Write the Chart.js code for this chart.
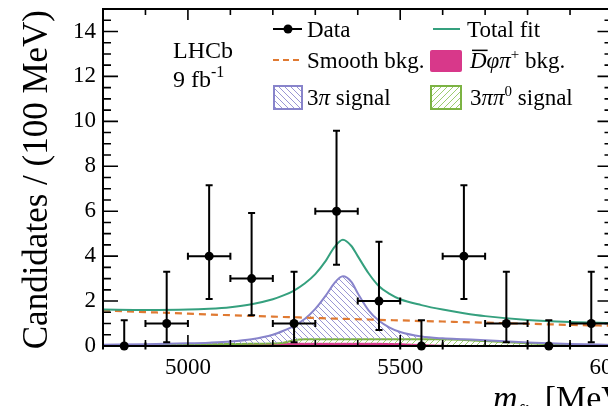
<!DOCTYPE html>
<html>
<head>
<meta charset="utf-8">
<script src="https://cdn.jsdelivr.net/npm/chart.js@4.4.0/dist/chart.umd.min.js"></script>
<style>
  html, body { margin: 0; padding: 0; background: #fff; overflow: hidden; }
  #wrap { width: 608px; height: 406px; overflow: hidden; }
  canvas { display: block; }
</style>
</head>
<body>
<div id="wrap"><canvas id="fitChart" width="640" height="406"></canvas></div>
<script>
// binned data, 100 MeV bins
const binCenters = [4850, 4950, 5050, 5150, 5250, 5350, 5450, 5550, 5650, 5750, 5850, 5950];
const counts     = [0, 1, 4, 3, 1, 6, 2, 0, 4, 1, 0, 1];
const errLow     = [0, 0.17, 2.09, 1.37, 0.17, 3.62, 0.71, 0, 2.09, 0.17, 0, 0.17];
const errHigh    = [1.15, 3.30, 7.16, 5.92, 3.30, 9.58, 4.64, 1.15, 7.16, 3.30, 1.15, 3.30];
const binHalfWidth = 50;

// fit components, sampled along the mass axis
const curveMass = [4800, 4900, 5000, 5050, 5100, 5150, 5200, 5225, 5250, 5275, 5300, 5325, 5345, 5365,
                   5385, 5400, 5425, 5450, 5475, 5500, 5550, 5600, 5650, 5700, 5800, 5900, 6000];
const totalFit  = [1.62, 1.60, 1.62, 1.66, 1.73, 1.86, 2.08, 2.25, 2.47, 2.78, 3.20, 3.80, 4.40, 4.73,
                   4.45, 4.00, 3.25, 2.66, 2.32, 2.08, 1.82, 1.62, 1.46, 1.33, 1.16, 1.07, 1.02];
const smoothBkg = [1.58, 1.51, 1.44, 1.40, 1.37, 1.34, 1.31, 1.29, 1.28, 1.26, 1.25, 1.23, 1.22, 1.21,
                   1.20, 1.19, 1.18, 1.16, 1.15, 1.14, 1.11, 1.09, 1.06, 1.04, 0.99, 0.94, 0.90];
// stacked tops: D phi pi bkg, + 3pi pi0 signal, + 3pi signal
const dphipiTop = [0.02, 0.04, 0.07, 0.08, 0.09, 0.10, 0.11, 0.11, 0.12, 0.12, 0.12, 0.12, 0.12, 0.12,
                   0.12, 0.12, 0.12, 0.12, 0.11, 0.10, 0.06, 0.03, 0.01, 0, 0, 0, 0];
const pi3pi0Top = [0.02, 0.04, 0.07, 0.08, 0.09, 0.10, 0.11, 0.14, 0.26, 0.30, 0.30, 0.30, 0.30, 0.30,
                   0.30, 0.30, 0.30, 0.30, 0.30, 0.30, 0.30, 0.30, 0.27, 0.22, 0.12, 0.05, 0.02];
const pi3Top    = [0.06, 0.08, 0.12, 0.15, 0.20, 0.30, 0.50, 0.68, 0.90, 1.20, 1.65, 2.25, 2.80, 3.10,
                   2.85, 2.35, 1.60, 1.12, 0.82, 0.62, 0.42, 0.34, 0.30, 0.26, 0.16, 0.09, 0.05];

const xTickValues = [5000, 5500, 6000];
const yTickValues = [0, 2, 4, 6, 8, 10, 12, 14];

const SERIF = "'Liberation Serif', 'Times New Roman', serif";
const GREEN = '#35a07e', ORANGE = '#e07a32', PINK = '#d8388a', PURPLE = '#8884cb', LIME = '#7cb343';

const canvas = document.getElementById('fitChart');
const ctx = canvas.getContext('2d');

function hatch(color, forward) {
  const s = 6;
  const c = document.createElement('canvas');
  c.width = s; c.height = s;
  const g = c.getContext('2d');
  g.strokeStyle = color;
  g.lineWidth = 1;
  g.beginPath();
  if (forward) {
    g.moveTo(0, s); g.lineTo(s, 0);
    g.moveTo(-1, 1); g.lineTo(1, -1);
    g.moveTo(s - 1, s + 1); g.lineTo(s + 1, s - 1);
  } else {
    g.moveTo(0, 0); g.lineTo(s, s);
    g.moveTo(-1, s - 1); g.lineTo(1, s + 1);
    g.moveTo(s - 1, -1); g.lineTo(s + 1, 1);
  }
  g.stroke();
  return ctx.createPattern(c, 'repeat');
}

const purpleHatch = hatch('#9a96d4', false);
const limeHatch = hatch('#9ccc70', true);

const pts = ys => curveMass.map((x, i) => ({ x: x, y: ys[i] }));

// draw text pieces one after another: [text, style] with style n / i / sup / sub
function rich(c, x, y, parts, size) {
  parts.forEach(p => {
    let font = size + 'px ' + SERIF, dy = 0;
    if (p[1] === 'i') font = 'italic ' + font;
    if (p[1] === 'sup') { font = Math.round(size * 0.65) + 'px ' + SERIF; dy = -size * 0.4; }
    if (p[1] === 'sub') { font = Math.round(size * 0.62) + 'px ' + SERIF; dy = size * 0.3; }
    c.font = font;
    c.fillText(p[0], x, y + dy);
    const w = c.measureText(p[0]).width;
    if (p[2] === 'bar') {
      c.fillRect(x + 2, y - size * 0.8, w - 1, 1.5);
    }
    x += w;
  });
  return x;
}

const decorations = {
  id: 'decorations',
  afterDatasetsDraw(chart) {
    const c = chart.ctx, xs = chart.scales.x, ys = chart.scales.y;
    c.save();
    c.strokeStyle = '#000';
    c.lineWidth = 2;
    binCenters.forEach((m, i) => {
      const px = xs.getPixelForValue(m), py = ys.getPixelForValue(counts[i]);
      const lo = ys.getPixelForValue(errLow[i]), hi = ys.getPixelForValue(errHigh[i]);
      const l = xs.getPixelForValue(m - binHalfWidth), r = xs.getPixelForValue(m + binHalfWidth);
      c.beginPath();
      c.moveTo(px, lo); c.lineTo(px, hi);
      c.moveTo(px - 3.5, hi); c.lineTo(px + 3.5, hi);
      if (errLow[i] > 0) { c.moveTo(px - 3.5, lo); c.lineTo(px + 3.5, lo); }
      c.moveTo(l, py); c.lineTo(r, py);
      c.moveTo(l, py - 3.5); c.lineTo(l, py + 3.5);
      c.moveTo(r, py - 3.5); c.lineTo(r, py + 3.5);
      c.stroke();
    });
    c.restore();
  },
  afterDraw(chart) {
    const c = chart.ctx, xs = chart.scales.x, ys = chart.scales.y, a = chart.chartArea;
    c.save();
    c.strokeStyle = '#000';
    c.fillStyle = '#000';
    c.lineWidth = 2;
    c.strokeRect(a.left, a.top, a.right - a.left, a.bottom - a.top);

    // inward ticks
    c.lineWidth = 1.6;
    c.beginPath();
    for (let m = 4800; m <= 6000; m += 100) {
      const px = xs.getPixelForValue(m);
      const len = m % 500 === 0 ? 11 : 6;
      c.moveTo(px, a.bottom); c.lineTo(px, a.bottom - len);
      c.moveTo(px, a.top); c.lineTo(px, a.top + len);
    }
    for (let v = 0; v <= 15; v += 0.5) {
      const py = ys.getPixelForValue(v);
      const len = v % 2 === 0 ? 15 : 8;
      c.moveTo(a.left, py); c.lineTo(a.left + len, py);
      c.moveTo(a.right, py); c.lineTo(a.right - len, py);
    }
    c.stroke();

    // axis titles
    c.textBaseline = 'alphabetic';
    c.save();
    c.translate(47, 10);
    c.rotate(-Math.PI / 2);
    c.textAlign = 'right';
    c.font = '35px ' + SERIF;
    c.fillText('Candidates / (100 MeV)', 0, 0);
    c.restore();
    c.textAlign = 'left';
    rich(c, 493, 409, [['m', 'i'], ['fit', 'sub'], [' [MeV]', 'n']], 34);

    // experiment label
    c.font = '24px ' + SERIF;
    c.fillText('LHCb', 173, 58);
    rich(c, 173, 87, [['9 fb', 'n'], ['-1', 'sup']], 24);

    // legend
    const fs = 23;
    c.lineWidth = 2;
    c.beginPath(); c.moveTo(273, 29); c.lineTo(302, 29); c.stroke();
    c.beginPath(); c.arc(288, 29, 4.5, 0, Math.PI * 2); c.fill();
    rich(c, 307, 37, [['Data', 'n']], fs);

    c.strokeStyle = GREEN;
    c.beginPath(); c.moveTo(433, 29); c.lineTo(460, 29); c.stroke();
    rich(c, 467, 37, [['Total fit', 'n']], fs);

    c.strokeStyle = ORANGE;
    c.setLineDash([6, 4]);
    c.lineWidth = 2.2;
    c.beginPath(); c.moveTo(273, 60); c.lineTo(302, 60); c.stroke();
    c.setLineDash([]);
    rich(c, 307, 68, [['Smooth bkg.', 'n']], fs);

    c.fillStyle = PINK;
    c.beginPath(); c.roundRect(430, 50, 32, 22, 2); c.fill();
    c.fillStyle = '#000';
    rich(c, 470, 68, [['D', 'i', 'bar'], ['φπ', 'i'], ['+', 'sup'], [' bkg.', 'n']], fs);

    c.lineWidth = 2;
    c.fillStyle = purpleHatch;
    c.fillRect(274, 86, 28, 23);
    c.strokeStyle = PURPLE;
    c.strokeRect(274, 86, 28, 23);
    c.fillStyle = limeHatch;
    c.fillRect(431, 86, 30, 23);
    c.strokeStyle = LIME;
    c.strokeRect(431, 86, 30, 23);
    c.fillStyle = '#000';
    rich(c, 307, 105, [['3', 'n'], ['π', 'i'], [' signal', 'n']], fs);
    rich(c, 470, 105, [['3', 'n'], ['ππ', 'i'], ['0', 'sup'], [' signal', 'n']], fs);
    c.restore();
  }
};

new Chart(ctx, {
  type: 'line',
  data: {
    datasets: [
      { data: pts(dphipiTop), borderColor: PINK, borderWidth: 1, backgroundColor: PINK,
        fill: 'origin', cubicInterpolationMode: 'monotone', order: 5 },
      { data: pts(pi3pi0Top), borderColor: LIME, borderWidth: 2, backgroundColor: limeHatch,
        fill: '-1', cubicInterpolationMode: 'monotone', order: 4 },
      { data: pts(pi3Top), borderColor: PURPLE, borderWidth: 2, backgroundColor: purpleHatch,
        fill: '-1', cubicInterpolationMode: 'monotone', order: 3 },
      { data: pts(smoothBkg), borderColor: ORANGE, borderWidth: 2.2, borderDash: [7, 5],
        fill: false, cubicInterpolationMode: 'monotone', order: 2 },
      { data: pts(totalFit), borderColor: GREEN, borderWidth: 2,
        fill: false, cubicInterpolationMode: 'monotone', order: 1 },
      { data: binCenters.map((m, i) => ({ x: m, y: counts[i] })), showLine: false,
        pointRadius: 4.5, pointBackgroundColor: '#000', pointBorderWidth: 0, clip: false, order: 0 }
    ]
  },
  options: {
    responsive: false,
    animation: false,
    layout: { padding: { top: 9, right: 27.5, left: 0, bottom: 0 } },
    plugins: { legend: { display: false }, tooltip: { enabled: false } },
    elements: { point: { radius: 0 } },
    scales: {
      x: {
        type: 'linear', min: 4800, max: 6000,
        grid: { display: false, drawTicks: false },
        border: { display: false },
        afterBuildTicks: s => { s.ticks = xTickValues.map(v => ({ value: v })); },
        afterFit: s => { s.height = 60; s.paddingLeft = 0; s.paddingRight = 0; },
        ticks: { font: { family: SERIF, size: 23 }, color: '#000', padding: 8,
                 maxRotation: 0, autoSkip: false, callback: v => String(v) }
      },
      y: {
        type: 'linear', min: 0, max: 15,
        grid: { display: false, drawTicks: false },
        border: { display: false },
        afterBuildTicks: s => { s.ticks = yTickValues.map(v => ({ value: v })); },
        afterFit: s => { s.width = 103; s.paddingTop = 0; s.paddingBottom = 0; },
        ticks: { font: { family: SERIF, size: 23 }, color: '#000', padding: 7,
                 callback: v => String(v) }
      }
    }
  },
  plugins: [decorations]
});
</script>
</body>
</html>
